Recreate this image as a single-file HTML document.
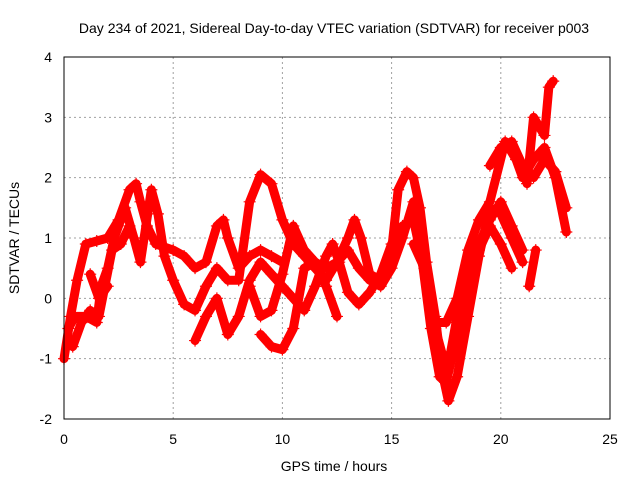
<!DOCTYPE html>
<html><head><meta charset="utf-8"><style>
body{margin:0;background:#fff}
svg{display:block;font-family:"Liberation Sans",sans-serif}
</style></head><body>
<svg id="chart" width="640" height="480">
<text x="334" y="33" font-size="14" text-anchor="middle">Day 234 of 2021, Sidereal Day-to-day VTEC variation (SDTVAR) for receiver p003</text>
<text x="334" y="471" font-size="14" text-anchor="middle">GPS time / hours</text>
<text transform="translate(19,238) rotate(-90)" font-size="14" text-anchor="middle">SDTVAR / TECUs</text>
<g id="grid"></g><g id="ticks"></g><g id="marks"></g>
<rect x="64" y="57" width="546" height="362" fill="none" stroke="#000" stroke-width="1"/>
</svg>
<script>
const xTicks=[0,5,10,15,20,25];
const yTicks=[-2,-1,0,1,2,3,4];
const track1=[[0,-1.0],[0.3,-0.3],[0.6,0.3],[1,0.9],[1.5,0.95],[2,1.0],[2.5,1.3],[3,1.8],[3.3,1.9],[3.5,1.6],[3.8,1.2],[4.2,0.9],[5,0.8],[5.5,0.7],[6,0.5],[6.5,0.6],[7,1.2],[7.3,1.3],[7.5,1.0],[8,0.5],[8.5,0.7],[9,0.8],[9.5,0.7],[10,0.6]];
const track2=[[0.2,-0.5],[0.5,-0.3],[1,-0.3],[1.5,-0.4],[1.7,0.2],[2,0.5],[2.3,1.0],[2.8,1.5],[3.2,1.0],[3.5,0.6],[4,1.8],[4.3,1.4],[4.6,0.7],[5,0.3],[5.5,-0.1],[6,-0.2],[6.5,0.2],[7,0.5],[7.5,0.3],[8,0.3],[8.5,1.6],[9,2.05],[9.5,1.9],[10,1.3],[10.5,0.9],[11,0.7],[11.5,0.5],[12,0.3],[12.5,0.6],[13,1.0],[13.3,1.3],[13.6,1.0],[14,0.4],[14.5,0.3],[15,0.8],[15.3,1.8],[15.7,2.1],[16,2.0],[16.3,1.5],[16.6,0.6],[17,-0.3],[17.3,-1.2],[17.6,-1.7],[18,-1.3],[18.5,-0.3],[19,0.7],[19.5,1.5],[20,1.4],[20.5,1.0],[21,0.6]];
const track3=[[6,-0.7],[6.5,-0.3],[7,0],[7.5,-0.6],[8,-0.3],[8.5,0.3],[9,0.6],[9.5,0.4],[10,0.2],[10.5,0],[11,-0.2],[11.5,0.2],[12,0.7],[12.3,0.9],[12.6,0.6],[13,0.1],[13.5,-0.1],[14,0.1],[14.5,0.4],[15,0.9],[15.5,1.2],[16,1.3],[16.3,0.8],[16.7,0.0],[17,-0.5],[17.3,-0.9],[17.6,-1.1],[18,-0.3],[18.5,0.4],[19,0.9],[19.5,1.3],[20,1.6],[20.5,1.2],[21,0.8]];
const track4=[[9,-0.6],[9.5,-0.8],[10,-0.85],[10.5,-0.5],[11,0.5],[11.5,0.6],[12,0.5],[12.5,0.6],[13,0.8],[13.5,0.5],[14,0.3],[14.5,0.2],[15,0.5],[15.5,1.0],[16,1.6],[16.3,0.9],[16.8,-0.5],[17.2,-1.3],[17.5,-1.4],[18,-0.6],[18.5,0.2],[19,0.8],[19.5,1.2],[20,0.9],[20.5,0.5]];
const track5=[[19.5,2.2],[20,2.5],[20.5,2.6],[21,2.2],[21.5,2.0],[22,2.3],[22.5,2.1],[23,1.5]];
const track6=[[21.2,1.9],[21.5,3.0],[22,2.7],[22.2,3.5],[22.4,3.6]];
const track7=[[16,0.9],[16.5,0.5],[17,-0.4],[17.5,-0.4],[18,0],[18.5,0.8],[19,1.3],[19.5,1.6],[20.2,2.6],[20.7,2.3],[21,2.0],[21.5,2.3],[22,2.5],[22.5,2.0],[23,1.1]];
const track8=[[8.5,0.2],[9,-0.3],[9.5,-0.2],[10,0.4],[10.5,1.2],[11,0.8],[11.5,0.6],[12,0.2],[12.5,-0.3]];
const track9=[[21.3,0.2],[21.6,0.8]];
const track10=[[1.2,0.4],[1.6,0],[2,0.2]];
const track11=[[0.4,-0.8],[0.8,-0.4],[1.2,-0.2],[1.6,-0.3],[2.2,0.8],[2.6,0.9],[3,1.2]];
const tracks=[track1,track2,track3,track4,track5,track6,track7,track8,track9,track10,track11];
const NS="http://www.w3.org/2000/svg";
const L=64,R=610,T=57,B=419;
const sx=v=>L+(v-0)/25*(R-L);
const sy=v=>B-(v+2)/6*(B-T);
const grid=document.getElementById('grid'),ticks=document.getElementById('ticks'),marks=document.getElementById('marks');
function mk(tag,attrs,parent){const e=document.createElementNS(NS,tag);for(const k in attrs)e.setAttribute(k,attrs[k]);parent.appendChild(e);return e;}
xTicks.forEach(t=>{
  if(t>0&&t<25){const g=mk('line',{x1:sx(t),x2:sx(t),y1:T,y2:B,stroke:'#a0a0a0','stroke-dasharray':'2,3'},grid);
  
  }
  const l=mk('text',{x:sx(t),y:B+25,'font-size':14,'text-anchor':'middle'},ticks);l.textContent=t;
  
  
});
yTicks.forEach(t=>{
  if(t>-2&&t<4){const g=mk('line',{x1:L,x2:R,y1:sy(t),y2:sy(t),stroke:'#a0a0a0','stroke-dasharray':'2,3'},grid);
  
  }
  const l=mk('text',{x:L-12,y:sy(t)+5,'font-size':14,'text-anchor':'end'},ticks);l.textContent=t;
  
  
});
tracks.forEach((tr,i)=>{
  const p=mk('polyline',{points:tr.map(d=>sx(d[0])+','+sy(d[1])).join(' '),fill:'none',stroke:'#ff0000','stroke-width':9,'stroke-linejoin':'round','stroke-linecap':'round'},marks);
  
  
  tr.forEach(d=>{
    const x=sx(d[0]),y=sy(d[1]);
    const m=mk('path',{d:`M${x-6},${y}H${x+6}M${x},${y-6}V${y+6}`,stroke:'#ff0000','stroke-width':1.2},marks);
    
    
  });
});
</script>
</body></html>
